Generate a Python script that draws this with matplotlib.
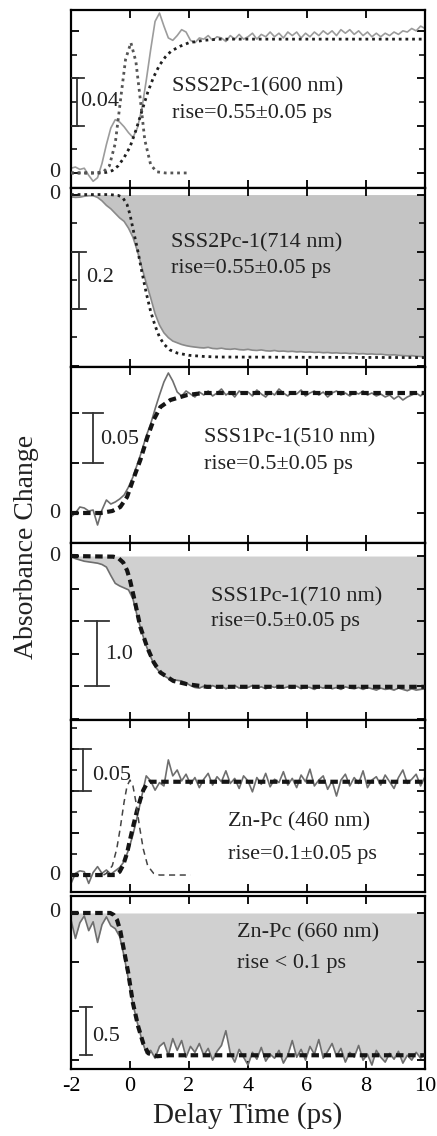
import numpy as np
import matplotlib
matplotlib.use("Agg")
import matplotlib.pyplot as plt
import matplotlib.transforms as mtransforms

plt.rcParams["font.family"] = ["Liberation Serif", "DejaVu Serif"]
plt.rcParams["axes.unicode_minus"] = False

# delay grid of the measured traces (ps)
delay = [
    -2.00, -1.85, -1.70, -1.55, -1.40, -1.25, -1.10, -0.95, -0.80, -0.65,
    -0.50, -0.35, -0.20, -0.05, 0.10, 0.25, 0.40, 0.55, 0.70, 0.85,
    1.00, 1.15, 1.30, 1.45, 1.60, 1.75, 1.90, 2.05, 2.20, 2.35,
    2.50, 2.65, 2.80, 2.95, 3.10, 3.25, 3.40, 3.55, 3.70, 3.85,
    4.00, 4.15, 4.30, 4.45, 4.60, 4.75, 4.90, 5.05, 5.20, 5.35,
    5.50, 5.65, 5.80, 5.95, 6.10, 6.25, 6.40, 6.55, 6.70, 6.85,
    7.00, 7.15, 7.30, 7.45, 7.60, 7.75, 7.90, 8.05, 8.20, 8.35,
    8.50, 8.65, 8.80, 8.95, 9.10, 9.25, 9.40, 9.55, 9.70, 9.85,
    10.00,
]

# SSS2Pc-1 600 nm (mOD)
a600 = [
    4, 5, 3, 4, -2, -7, -4, 8, 24, 38,
    45, 43, 39, 34, 30, 38, 54, 78, 104, 128,
    135, 124, 114, 112, 116, 121, 119, 112, 110, 114,
    113, 116, 112, 115, 114, 111, 116, 113, 117, 113,
    115, 118, 113, 117, 115, 119, 115, 118, 114, 119,
    116, 119, 114, 118, 115, 119, 116, 120, 117, 120,
    116, 121, 118, 121, 117, 120, 116, 119, 115, 118,
    115, 118, 116, 119, 117, 120, 119, 122, 120, 124,
    122,
]
fit600_t = [-2.0, -1.0, -0.8, -0.6, -0.4, -0.2, 0.0, 0.2, 0.4, 0.6, 0.8, 1.0,
            1.2, 1.4, 1.7, 2.0, 2.5, 3.0, 10.0]
fit600 = [0, 0, 0.5, 2, 6, 13, 22, 36, 52, 68, 81, 91, 98, 103, 107, 110, 112, 113, 113]
pulse600_t = [-2.0, -1.2, -0.9, -0.7, -0.5, -0.3, -0.15, 0.03, 0.2, 0.35, 0.5, 0.7,
              0.9, 1.2, 1.95]
pulse600 = [0, 0, 1, 6, 25, 66, 96, 110, 94, 62, 28, 7, 1, 0, 0]

# SSS2Pc-1 714 nm (OD)
a714 = [
    -0.008, -0.010, -0.009, -0.006, -0.004, -0.004, -0.010, -0.022, -0.038, -0.050,
    -0.066, -0.082, -0.094, -0.118, -0.150, -0.198, -0.255, -0.310, -0.362, -0.418,
    -0.458, -0.485, -0.502, -0.514, -0.520, -0.526, -0.530, -0.533, -0.535, -0.537,
    -0.538, -0.536, -0.540, -0.541, -0.539, -0.542, -0.543, -0.541, -0.544, -0.545,
    -0.543, -0.546, -0.547, -0.545, -0.548, -0.549, -0.547, -0.550, -0.549, -0.551,
    -0.550, -0.552, -0.551, -0.553, -0.552, -0.554, -0.553, -0.555, -0.554, -0.556,
    -0.555, -0.557, -0.556, -0.558, -0.557, -0.559, -0.558, -0.560, -0.559, -0.561,
    -0.560, -0.562, -0.563, -0.562, -0.564, -0.565, -0.566, -0.565, -0.567, -0.568,
    -0.570,
]
fit714_t = [-2.0, -0.7, -0.4, -0.25, -0.1, 0.0, 0.1, 0.25, 0.4, 0.55, 0.7, 0.85,
            1.0, 1.15, 1.35, 1.6, 2.0, 2.5, 3.0, 10.0]
fit714 = [0, 0, -0.003, -0.01, -0.035, -0.07, -0.12, -0.19, -0.27, -0.345, -0.41,
          -0.46, -0.5, -0.525, -0.545, -0.556, -0.564, -0.568, -0.57, -0.572]

# SSS1Pc-1 510 nm (mOD)
a510 = [
    -4, 0, 6, 5, 2, 3, -12, 3, 13, 9,
    11, 14, 18, 26, 36, 49, 62, 77, 89, 104,
    118, 131, 140, 132, 121, 117, 122, 119, 116, 121,
    118, 122, 117, 120, 124, 118, 121, 116, 122, 119,
    121, 117, 123, 119, 116, 121, 118, 124, 120, 117,
    121, 119, 123, 117, 120, 122, 118, 121, 116, 120,
    122, 118, 120, 117, 121, 119, 122, 118, 120, 117,
    119, 116, 118, 114, 117, 113, 116, 118, 120, 117,
    121,
]
fit510_t = [-2.0, -1.0, -0.6, -0.33, -0.1, 0.1, 0.35, 0.58, 0.8, 1.03, 1.37, 1.94, 2.5, 10.0]
fit510 = [0, 0, 2, 6, 16, 33, 53, 75, 93, 106, 113, 118, 120, 120]

# SSS1Pc-1 710 nm (OD)
a710 = [
    -0.01, -0.04, -0.06, -0.08, -0.09, -0.10, -0.11, -0.13, -0.17, -0.30,
    -0.42, -0.46, -0.49, -0.52, -0.66, -0.93, -1.17, -1.38, -1.55, -1.70,
    -1.78, -1.84, -1.88, -1.90, -1.91, -1.92, -1.95, -1.99, -2.02, -2.03,
    -2.00, -2.03, -1.99, -2.02, -2.00, -2.04, -2.01, -1.99, -2.03, -2.00,
    -2.02, -1.99, -2.03, -2.01, -2.04, -2.00, -2.02, -1.99, -2.03, -2.01,
    -2.03, -2.00, -2.04, -2.01, -2.02, -2.05, -2.01, -2.03, -2.00, -2.04,
    -2.02, -2.05, -2.01, -2.03, -2.04, -2.02, -2.05, -2.02, -2.04, -2.06,
    -2.03, -2.05, -2.04, -2.06, -2.03, -2.05, -2.07, -2.04, -2.06, -2.05,
    -2.04,
]
fit710_t = [-2.0, -0.57, -0.4, -0.23, -0.1, 0.0, 0.18, 0.35, 0.58, 0.8, 1.03, 1.47,
            1.94, 2.6, 10.0]
fit710 = [0, -0.01, -0.03, -0.1, -0.22, -0.37, -0.73, -1.09, -1.4, -1.63, -1.79,
          -1.92, -1.97, -2.01, -2.01]

# Zn-Pc 460 nm (mOD)
a460 = [
    -10, 2, 5, 4, -10, 3, 10, 2, 6, 1,
    5, 9, 16, 30, 48, 70, 94, 118, 112, 101,
    110, 106, 137, 118, 125, 112, 120, 108, 116, 104,
    114, 121, 107, 117, 111, 124, 109, 115, 103, 118,
    112, 99, 116, 108, 121, 105, 114, 110, 123, 107,
    115, 104, 119, 111, 126, 106, 113, 118, 102, 112,
    94, 113, 120, 106, 116, 109, 124, 104, 113, 117,
    107, 119, 111, 103, 116, 125, 109, 114, 120, 106,
    117,
]
fit460_t = [-2.0, -0.5, -0.35, -0.23, -0.1, 0.0, 0.12, 0.24, 0.35, 0.45, 0.56, 0.68, 1.0, 10.0]
fit460 = [0, 0, 4, 12, 26, 42, 60, 77, 90, 101, 108, 111, 111, 111]
pulse460_t = [-0.9, -0.8, -0.6, -0.45, -0.33, -0.2, -0.1, 0.0, 0.1, 0.2, 0.33, 0.45,
              0.6, 0.8, 1.0, 2.05]
pulse460 = [0, 2, 11, 31, 56, 87, 106, 113, 106, 87, 56, 31, 11, 2, 0, 0]

# Zn-Pc 660 nm (OD)
a660 = [
    -0.07, -0.26, -0.10, -0.03, -0.18, -0.09, -0.30, -0.12, -0.04, -0.13,
    -0.16, -0.24, -0.44, -0.68, -0.93, -1.12, -1.29, -1.43, -1.40, -1.48,
    -1.36, -1.32, -1.45, -1.28, -1.40, -1.30, -1.47, -1.36, -1.42, -1.33,
    -1.45, -1.38, -1.50, -1.41, -1.35, -1.20, -1.43, -1.52, -1.39, -1.47,
    -1.55, -1.42, -1.49, -1.37, -1.51, -1.44, -1.48, -1.40, -1.53, -1.45,
    -1.30, -1.47, -1.39, -1.50, -1.36, -1.44, -1.29, -1.48, -1.41, -1.33,
    -1.46, -1.38, -1.52, -1.42, -1.47, -1.35, -1.50, -1.44, -1.55, -1.40,
    -1.47, -1.52, -1.43, -1.49, -1.41, -1.53, -1.45, -1.50, -1.42, -1.48,
    -1.44,
]
fit660_t = [-2.0, -0.67, -0.55, -0.44, -0.33, -0.23, -0.06, 0.1, 0.28, 0.45, 0.62,
            0.92, 1.3, 10.0]
fit660 = [0, 0, -0.02, -0.07, -0.18, -0.34, -0.61, -0.92, -1.16, -1.33, -1.43,
          -1.46, -1.45, -1.45]

names = ["SSS2Pc-1(600 nm)", "SSS2Pc-1(714 nm)", "SSS1Pc-1(510 nm)",
         "SSS1Pc-1(710 nm)", "Zn-Pc (460 nm)", "Zn-Pc (660 nm)"]
rises = ["rise=0.55\u00b10.05 ps", "rise=0.55\u00b10.05 ps", "rise=0.5\u00b10.05 ps",
         "rise=0.5\u00b10.05 ps", "rise=0.1\u00b10.05 ps", "rise < 0.1 ps"]
bar_labels = ["0.04", "0.2", "0.05", "1.0", "0.05", "0.5"]

# layout / style of each panel (pixel rows, limits, scale bar, text spots)
W, H = 437, 1136
X0, X1 = 71, 425
panels = [
    dict(rows=(10, 188), ylim=(-12.7, 137.6), major=40, minor=20,
         trace=a600, fit=(fit600_t, fit600), pulse=(pulse600_t, pulse600),
         fill=None, tcol="#9c9c9c", style="dot",
         bar=(-1.80, 40, 80, 0.24), blab=(-1.69, 60), txt=(1.43, 72.6, 50.6)),
    dict(rows=(188, 367), ylim=(-0.605, 0.023), major=0.2, minor=0.1,
         trace=a714, fit=(fit714_t, fit714), pulse=None,
         fill="#c4c4c4", tcol="#8a8a8a", style="dot",
         bar=(-1.73, -0.2, -0.4, 0.24), blab=(-1.49, -0.29), txt=(1.40, -0.17, -0.258)),
    dict(rows=(367, 543), ylim=(-30, 146), major=50, minor=None,
         trace=a510, fit=(fit510_t, fit510), pulse=None,
         fill=None, tcol="#6e6e6e", style="dash",
         bar=(-1.25, 50, 100, 0.35), blab=(-1.01, 73), txt=(2.52, 75, 49)),
    dict(rows=(543, 720), ylim=(-2.52, 0.2), major=0.5, minor=None,
         trace=a710, fit=(fit710_t, fit710), pulse=None,
         fill="#d0d0d0", tcol="#6e6e6e", style="dash",
         bar=(-1.12, -1.0, -2.0, 0.4), blab=(-0.84, -1.52), txt=(2.76, -0.63, -1.0)),
    dict(rows=(720, 892), ylim=(-20.2, 184.5), major=50, minor=25,
         trace=a460, fit=(fit460_t, fit460), pulse=(pulse460_t, pulse460),
         fill=None, tcol="#6e6e6e", style="dash",
         bar=(-1.59, 100, 150, 0.27), blab=(-1.29, 119), txt=(3.33, 63, 25)),
    dict(rows=(896, 1069), ylim=(-1.59, 0.173), major=0.5, minor=None,
         trace=a660, fit=(fit660_t, fit660), pulse=None,
         fill="#d0d0d0", tcol="#6e6e6e", style="dash",
         bar=(-1.49, -0.96, -1.45, 0.2), blab=(-1.29, -1.26), txt=(3.63, -0.204, -0.51)),
]

fig = plt.figure(figsize=(W / 100, H / 100), dpi=100)
fs = 16

for i, p in enumerate(panels):
    top, bot = p["rows"]
    ax = fig.add_axes([X0 / W, 1 - bot / H, (X1 - X0) / W, (bot - top) / H])
    ax.set_xlim(-2, 10)
    ax.set_ylim(*p["ylim"])

    t = np.array(delay)
    y = np.array(p["trace"])
    if p["fill"]:
        ax.fill_between(t, y, 0, color=p["fill"], lw=0, zorder=1)
    ax.plot(t, y, color=p["tcol"], lw=1.2, zorder=2)

    if p["style"] == "dot":
        ls, lw, col = (0, (1, 1.4)), 2.0, "#202020"
    else:
        ls, lw, col = (0, (1.8, 1.1)), 3.0, "#151515"
    ax.plot(p["fit"][0], p["fit"][1], color=col, lw=lw, ls=ls, zorder=3)

    if p["pulse"] is not None:
        if i == 0:
            ax.plot(p["pulse"][0], p["pulse"][1], color="#555555", lw=2.0,
                    ls=(0, (1, 1.4)), zorder=3)
        else:
            ax.plot(p["pulse"][0], p["pulse"][1], color="#444444", lw=1.1,
                    ls=(0, (4, 3)), zorder=3)

    # scale bar
    bx, b0, b1, hw = p["bar"]
    bc = "#333333"
    ax.plot([bx, bx], [b0, b1], color=bc, lw=1.3, zorder=4)
    ax.plot([bx - hw, bx + hw], [b0, b0], color=bc, lw=1.3, zorder=4)
    ax.plot([bx - hw, bx + hw], [b1, b1], color=bc, lw=1.3, zorder=4)
    ax.text(p["blab"][0], p["blab"][1], bar_labels[i], fontsize=fs,
            va="center", ha="left", color="#222222", zorder=5)

    tx, ty1, ty2 = p["txt"]
    ax.text(tx, ty1, names[i], fontsize=fs, va="center", ha="left", color="#222222")
    ax.text(tx, ty2, rises[i], fontsize=fs, va="center", ha="left", color="#222222")

    # zero label on the left
    trans = mtransforms.blended_transform_factory(ax.transAxes, ax.transData)
    ax.text(-0.031, 0, "0", transform=trans, fontsize=fs, ha="right",
            va="center", color="#222222")

    ax.set_xticks([-2, 0, 2, 4, 6, 8, 10])
    lo, hi = p["ylim"]
    m = p["major"]
    ax.set_yticks(np.arange(np.ceil(lo / m) * m, hi, m))
    if p["minor"]:
        mn = p["minor"]
        ax.set_yticks(np.arange(np.ceil(lo / mn) * mn, hi, mn), minor=True)
    ax.tick_params(which="major", direction="in", top=True, right=True,
                   length=6, width=1.3, labelleft=False, labelsize=fs, pad=6)
    ax.tick_params(which="minor", direction="in", right=True, left=True,
                   length=4, width=1.1)
    if i < len(panels) - 1:
        ax.tick_params(labelbottom=False)
    for s in ax.spines.values():
        s.set_linewidth(1.6)

fig.text(27 / W, 1 - 547 / H, "Absorbance Change", rotation=90, fontsize=20,
         ha="center", va="center", color="#222222")
fig.text((X0 + X1) / 2 / W, 1 - 1116 / H, "Delay Time (ps)", fontsize=21,
         ha="center", va="center", color="#222222")

fig.savefig("out.png", dpi=100)
